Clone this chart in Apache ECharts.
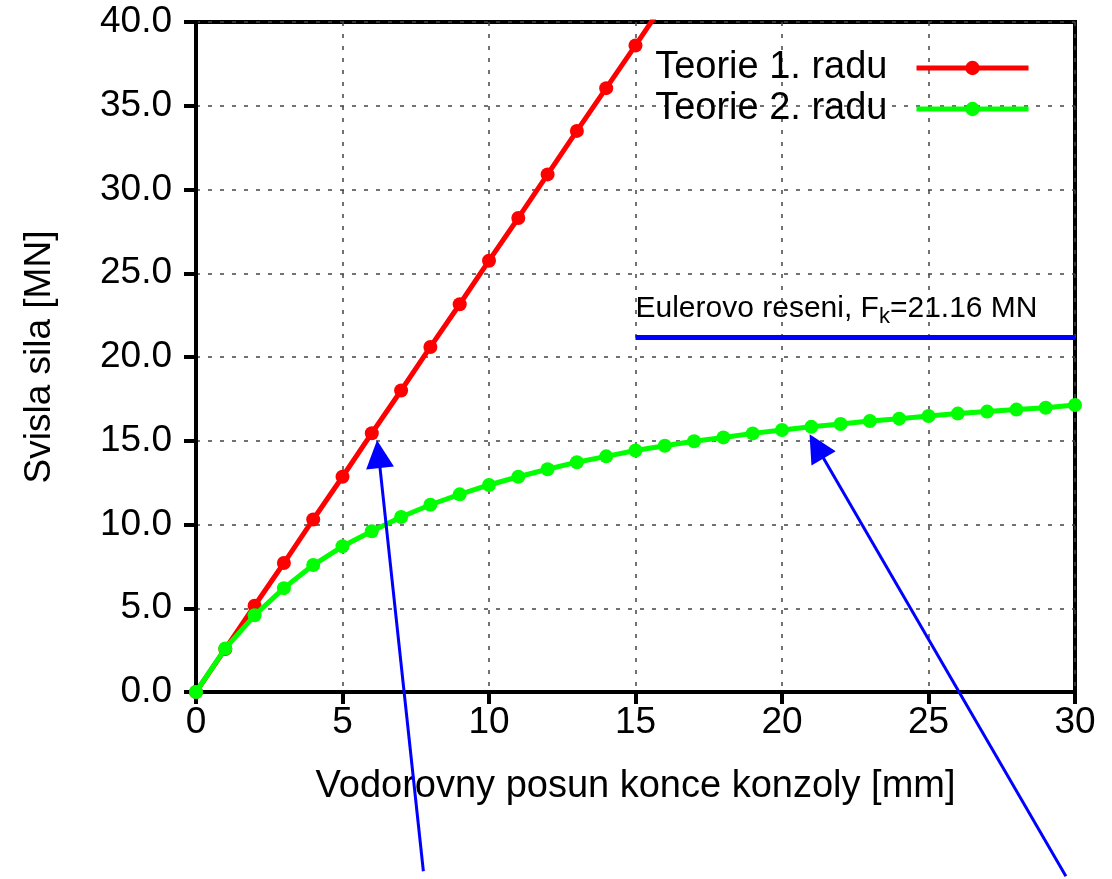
<!DOCTYPE html>
<html>
<head>
<meta charset="utf-8">
<script src="https://cdn.jsdelivr.net/npm/echarts@6/dist/echarts.min.js"></script>
<style>
  html, body { margin: 0; padding: 0; background: #fff; }
  #chart { width: 1112px; height: 879px; }
</style>
</head>
<body>
<div id="chart"></div>
<script>
// posun [mm]
const posun1 = [0, 1, 2, 3, 4, 5, 6, 7, 8, 9, 10, 11, 12, 13, 14, 15, 16]
const teorie1 = [0, 2.57, 5.15, 7.7, 10.3, 12.85, 15.45, 18.0, 20.6, 23.15, 25.75, 28.3, 30.9, 33.5, 36.05, 38.6, 41.2]

const posun2 = [0, 1, 2, 3, 4, 5, 6, 7, 8, 9, 10, 11, 12, 13, 14, 15, 16, 17, 18, 19, 20, 21, 22, 23, 24, 25, 26, 27, 28, 29, 30]
const teorie2 = [0, 2.6, 4.58, 6.2, 7.58, 8.7, 9.6, 10.45, 11.18, 11.8, 12.36, 12.85, 13.3, 13.72, 14.07, 14.42, 14.7, 14.97, 15.2, 15.44, 15.64, 15.83, 16.0, 16.18, 16.32, 16.48, 16.62, 16.74, 16.86, 16.97, 17.13]

const euler = 21.16
const eulerX = [15, 30]

// sipky (odkud -> kam)
const arrows = [
  [[7.76, -10.7], [6.23, 14.2]],
  [[29.69, -11.0], [21.18, 14.67]]
]

const font = 'Liberation Sans'

const chart = echarts.init(document.getElementById('chart'))

chart.setOption({
  animation: false,
  textStyle: { fontFamily: font },
  grid: {
    left: 196, right: 37, top: 22, bottom: 187,
    show: true, borderColor: '#000', borderWidth: 4
  },
  legend: {
    orient: 'vertical',
    right: 76,
    top: 44,
    align: 'right',
    itemWidth: 112,
    itemHeight: 18,
    itemGap: 3,
    lineStyle: { width: 5 },
    textStyle: { fontSize: 38, color: '#000', fontFamily: font, padding: [0, 24, 0, 0] },
    data: ['Teorie 1. radu', 'Teorie 2. radu']
  },
  xAxis: {
    type: 'value',
    min: 0, max: 30, interval: 5,
    name: 'Vodorovny posun konce konzoly [mm]',
    nameLocation: 'middle',
    nameGap: 76,
    nameTextStyle: { fontSize: 38, color: '#000' },
    axisLine: { lineStyle: { color: '#000', width: 4 } },
    axisTick: { length: 12, lineStyle: { color: '#000', width: 4 } },
    axisLabel: { fontSize: 37, color: '#000', margin: 12 },
    splitLine: { lineStyle: { color: '#444', type: [4, 8], width: 1.5 } }
  },
  yAxis: {
    type: 'value',
    min: 0, max: 40, interval: 5,
    name: 'Svisla sila [MN]',
    nameLocation: 'middle',
    nameGap: 138,
    nameTextStyle: { fontSize: 37, color: '#000' },
    axisLine: { show: true, lineStyle: { color: '#000', width: 4 } },
    axisTick: { show: true, length: 12, lineStyle: { color: '#000', width: 4 } },
    axisLabel: { fontSize: 37, color: '#000', margin: 24, formatter: v => v.toFixed(1) },
    splitLine: { lineStyle: { color: '#444', type: [4, 8], width: 1.5 } }
  },
  series: [
    {
      name: 'Teorie 1. radu',
      type: 'line',
      data: posun1.map((x, i) => [x, teorie1[i]]),
      color: '#ff0000',
      symbol: 'circle',
      symbolSize: 14,
      lineStyle: { width: 5 },
      clip: true,
      z: 3
    },
    {
      name: 'Teorie 2. radu',
      type: 'line',
      data: posun2.map((x, i) => [x, teorie2[i]]),
      color: '#00ff00',
      symbol: 'circle',
      symbolSize: 14,
      lineStyle: { width: 5 },
      z: 4
    },
    {
      name: 'Euler',
      type: 'line',
      data: eulerX.map((x, i) => ({
        value: [x, euler],
        label: i === 0 ? {
          show: true,
          position: [0, -10],
          align: 'left',
          verticalAlign: 'bottom',
          formatter: '{a|Eulerovo reseni, F}{s|k}{a|=' + euler.toFixed(2) + ' MN}',
          rich: {
            a: { fontSize: 30, color: '#000', fontFamily: font },
            s: { fontSize: 22, color: '#000', fontFamily: font, padding: [16, 0, 0, 0] }
          }
        } : { show: false }
      })),
      color: '#0000ff',
      symbol: 'circle',
      symbolSize: 0,
      showSymbol: true,
      lineStyle: { width: 5 },
      z: 2
    },
    {
      name: 'arrows',
      type: 'lines',
      coordinateSystem: 'cartesian2d',
      clip: false,
      symbol: ['none', 'triangle'],
      symbolSize: 28,
      lineStyle: { color: '#0000ff', width: 3, opacity: 1 },
      data: arrows.map(a => ({ coords: a })),
      z: 5
    }
  ]
})
</script>
</body>
</html>
